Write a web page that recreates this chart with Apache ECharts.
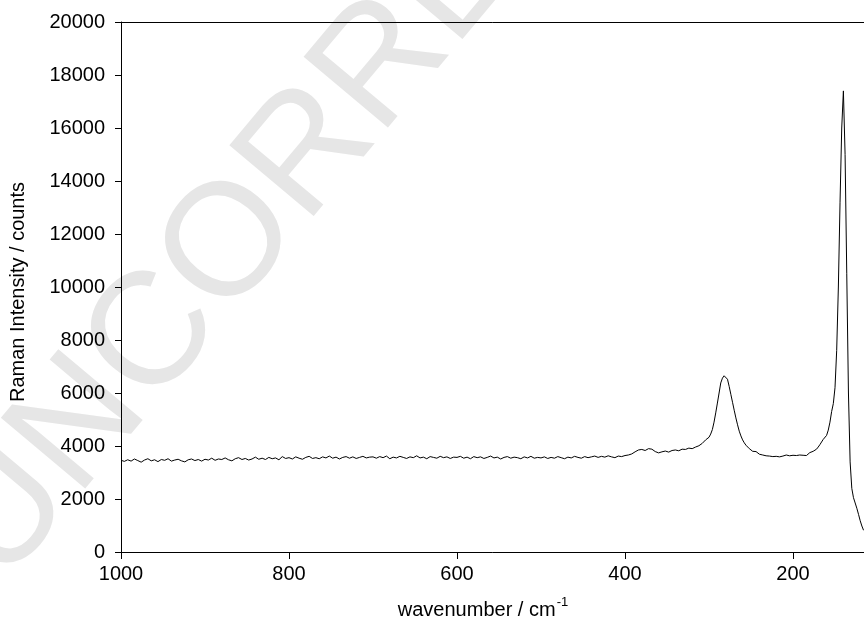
<!DOCTYPE html>
<html>
<head>
<meta charset="utf-8">
<script src="https://cdn.jsdelivr.net/npm/echarts@6/dist/echarts.min.js"></script>
<style>
html,body{margin:0;padding:0;background:#fff;}
#chart{width:864px;height:622px;}
</style>
</head>
<body>
<div id="chart"></div>
<script>
// Wavenumbers (cm-1)
const wavenumbers = [
1000,996,992,988,984,980,976,972,968,964,960,956,952,948,944,940,936,932,928,924,920,916,912,908,904,
900,896,892,888,884,880,876,872,868,864,860,856,852,848,844,840,836,832,828,824,820,816,812,808,804,
800,796,792,788,784,780,776,772,768,764,760,756,752,748,744,740,736,732,728,724,720,716,712,708,704,
700,696,692,688,684,680,676,672,668,664,660,656,652,648,644,640,636,632,628,624,620,616,612,608,604,
600,596,592,588,584,580,576,572,568,564,560,556,552,548,544,540,536,532,528,524,520,516,512,508,504,
500,496,492,488,484,480,476,472,468,464,460,456,452,448,444,440,436,432,428,424,420,416,412,408,404,
400,396,392,388,384,380,376,372,368,364,360,356,352,348,344,340,336,332,328,324,320,316,312,308,304,
300,
298,296,294,292,290,288,286,284,282,280,
278,276,274,272,270,268,266,264,262,260,
258,256,254,252,250,248,246,244,242,240,
238,236,234,232,230,228,226,224,222,220,
218,216,214,212,210,208,206,204,202,200,
198,196,194,192,190,188,186,184,182,180,
178,176,174,172,170,168,166,164,162,160,
158,156,154,152,150,148,146,144,142,140,
138,136,134,132,130,128,126,124,122,120,
118,116
];
// Raman intensity (counts)
const intensity = [
3460,3420,3480,3430,3510,3450,3390,3470,3520,3440,3480,3410,3490,3460,3520,3430,3470,3500,3440,3400,3480,3510,3450,3490,3430,
3500,3470,3540,3460,3510,3490,3550,3480,3440,3520,3560,3490,3530,3470,3510,3580,3500,3540,3490,3570,3520,3550,3480,3600,3530,
3560,3510,3590,3540,3500,3570,3610,3530,3560,3520,3590,3550,3620,3540,3580,3510,3570,3600,3540,3590,3530,3570,3610,3550,3580,
3590,3540,3600,3560,3620,3520,3580,3550,3610,3570,3530,3590,3560,3630,3550,3580,3520,3600,3570,3540,3610,3560,3590,3530,3580,
3570,3610,3540,3580,3520,3600,3560,3590,3530,3570,3620,3550,3580,3510,3570,3600,3540,3580,3560,3520,3590,3550,3610,3540,3570,
3550,3590,3530,3570,3540,3600,3560,3520,3580,3550,3610,3570,3540,3600,3560,3590,3620,3570,3610,3580,3630,3590,3560,3620,3600,
3640,3660,3700,3780,3850,3870,3830,3900,3880,3790,3740,3780,3810,3770,3830,3850,3820,3880,3870,3920,3900,3960,4010,4100,4230,
4330,
4450,4620,4900,5250,5620,6000,6380,6560,6650,6700,
6520,6250,5950,5650,5350,5060,4800,4560,4380,4230,
4120,4030,3960,3900,3840,3800,3760,3790,3720,3690,
3740,3660,3700,3630,3680,3620,3650,3600,3660,3610,
3640,3590,3650,3620,3600,3660,3610,3630,3590,3650,
3610,3640,3600,3660,3620,3650,3680,3640,3700,3750,
3720,3800,3850,3880,3960,4050,4150,4250,4320,4400,
4600,4900,5300,5600,6200,7600,10000,13200,16000,17400,
15000,10500,6000,3400,2400,2050,1850,1650,1420,1180,
980,820
];
const xTicks = [0, 200, 400, 600, 800, 1000];
const yTicks = [0, 2000, 4000, 6000, 8000, 10000, 12000, 14000, 16000, 18000, 20000];
const xTitle = 'wavenumber / cm';
const xTitleSup = '-1';
const yTitle = 'Raman Intensity / counts';
const watermark = 'UNCORRECTED PROOF';

const FONT = '"Liberation Sans", Arial, Helvetica, sans-serif';
const chart = echarts.init(document.getElementById('chart'), null, {renderer: 'canvas'});
const seriesData = wavenumbers.map((w, i) => [w, intensity[i]]);

chart.setOption({
  animation: false,
  backgroundColor: '#fff',
  grid: {left: 121, right: -97, top: 22, bottom: 70, containLabel: false, outerBoundsMode: 'none'},
  graphic: [
    {
      type: 'text', z: -10, silent: true,
      x: 30, y: 610, rotation: 50 * Math.PI / 180,
      style: {text: watermark, font: '160px "Liberation Sans", sans-serif', fill: '#e6e6e6',
              textAlign: 'left', textVerticalAlign: 'bottom'}
    },
    {
      type: 'text', silent: true, x: 483, y: 608,
      style: {
        text: '{a|' + xTitle + '}{b|' + xTitleSup + '}',
        textAlign: 'center', textVerticalAlign: 'middle',
        rich: {
          a: {fontFamily: FONT, fontSize: 20, fill: '#000', lineHeight: 24, verticalAlign: 'bottom'},
          b: {fontFamily: FONT, fontSize: 13, fill: '#000', lineHeight: 24, verticalAlign: 'top', padding: [0,0,0,1]}
        }
      }
    },
    {
      type: 'text', silent: true, x: 18, y: 292, rotation: Math.PI / 2,
      style: {text: yTitle, font: '20px ' + FONT, fill: '#000', textAlign: 'center', textVerticalAlign: 'middle'}
    }
  ],
  xAxis: [
    {
      type: 'value', inverse: true, min: xTicks[0], max: xTicks[xTicks.length - 1], interval: 200,
      position: 'bottom',
      axisLine: {show: true, onZero: false, lineStyle: {color: '#000', width: 1}},
      axisTick: {show: true, inside: false, length: 7, lineStyle: {color: '#000', width: 1}},
      axisLabel: {show: true, color: '#000', fontSize: 20, fontFamily: FONT, margin: 12,
                  formatter: v => String(v)},
      splitLine: {show: false}
    },
    {
      type: 'value', inverse: true, min: xTicks[0], max: xTicks[xTicks.length - 1], interval: 200,
      position: 'top',
      axisLine: {show: true, onZero: false, lineStyle: {color: '#000', width: 1}},
      axisTick: {show: false}, axisLabel: {show: false}, splitLine: {show: false}
    }
  ],
  yAxis: {
    type: 'value', min: yTicks[0], max: yTicks[yTicks.length - 1], interval: 2000,
    axisLine: {show: true, onZero: false, lineStyle: {color: '#000', width: 1}},
    axisTick: {show: true, inside: false, length: 6, lineStyle: {color: '#000', width: 1}},
    axisLabel: {show: true, color: '#000', fontSize: 20, fontFamily: FONT, margin: 16,
                formatter: v => String(v)},
    splitLine: {show: false}
  },
  series: [{
    type: 'line', xAxisIndex: 0, data: seriesData, showSymbol: false, symbol: 'none',
    lineStyle: {color: '#000', width: 1}, smooth: false, clip: true, z: 5
  }]
});
</script>
</body>
</html>
